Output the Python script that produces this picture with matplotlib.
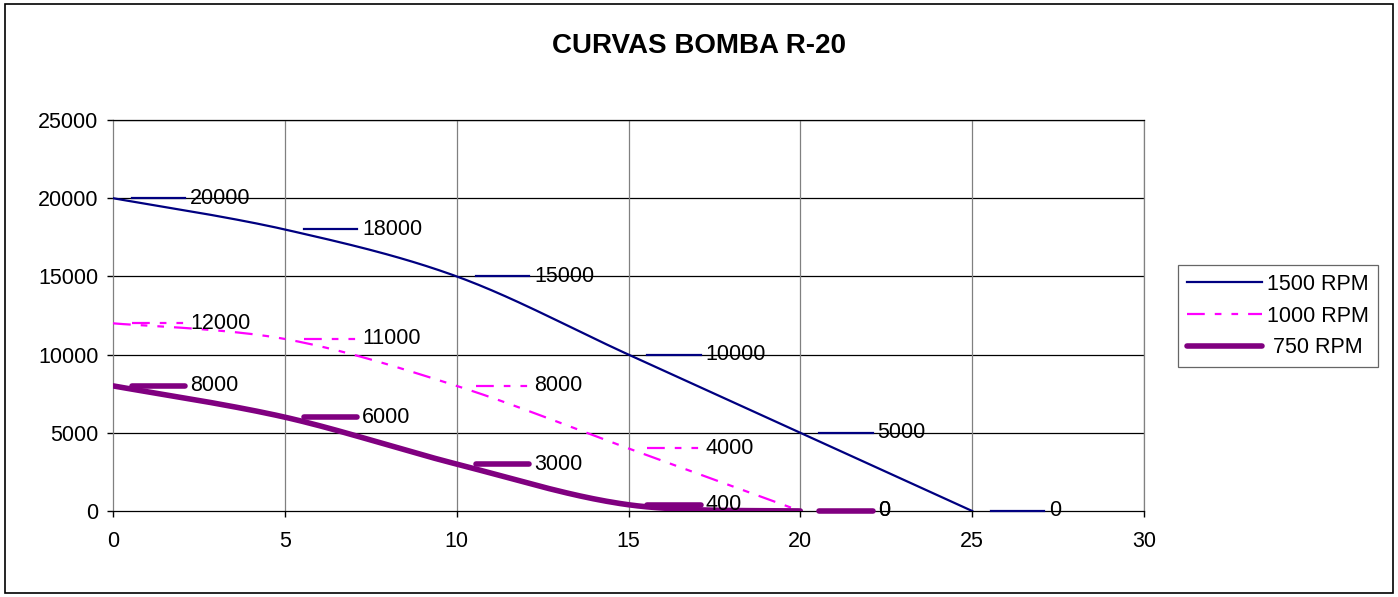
import numpy as np
import matplotlib
matplotlib.use("Agg")
import matplotlib.pyplot as plt
from matplotlib.patches import Rectangle

plt.rcParams['font.family'] = ['Liberation Sans', 'DejaVu Sans']

title = "CURVAS BOMBA R-20"
x_1500 = [0, 5, 10, 15, 20, 25]
y_1500 = [20000, 18000, 15000, 10000, 5000, 0]
x_1000 = [0, 5, 10, 15, 20]
y_1000 = [12000, 11000, 8000, 4000, 0]
x_750 = [0, 5, 10, 15, 20]
y_750 = [8000, 6000, 3000, 400, 0]
series_names = ["1500 RPM", "1000 RPM", " 750 RPM"]
x_ticks = [0, 5, 10, 15, 20, 25, 30]
y_ticks = [0, 5000, 10000, 15000, 20000, 25000]


def smooth(xs, ys, n=40):
    """Excel-style smoothed line (Bezier through points, Catmull-Rom tangents)."""
    P = np.column_stack([xs, ys]).astype(float)
    out = [P[0]]
    t = np.linspace(0, 1, n)[1:]
    for i in range(len(P) - 1):
        p0 = P[i - 1] if i > 0 else P[i]
        p1 = P[i]
        p2 = P[i + 1]
        p3 = P[i + 2] if i + 2 < len(P) else P[i + 1]
        c1 = p1 + (p2 - p0) / 6.0
        c2 = p2 - (p3 - p1) / 6.0
        seg = ((1 - t) ** 3)[:, None] * p1 + (3 * (1 - t) ** 2 * t)[:, None] * c1 \
            + (3 * (1 - t) * t ** 2)[:, None] * c2 + (t ** 3)[:, None] * p2
        out.extend(seg)
    out = np.array(out)
    return out[:, 0], out[:, 1]


FS = 15.5
fig = plt.figure(figsize=(13.98, 5.97), dpi=100)
fig.patches.append(Rectangle((5 / 1398, 4 / 597), 1388 / 1398, 589 / 597,
                             transform=fig.transFigure, fill=False,
                             edgecolor='black', linewidth=1.2))
ax = fig.add_axes([113 / 1398, 1 - 511 / 597, (1144 - 113) / 1398, (511 - 120) / 597])

styles = [
    dict(color='#000080', lw=1.6, ls='-'),
    dict(color='#FF00FF', lw=1.6, ls=(0, (8, 4.5, 3, 4.5, 3, 4.5))),
    dict(color='#800080', lw=4.0, ls='-', solid_capstyle='round'),
]
data = [(x_1500, y_1500), (x_1000, y_1000), (x_750, y_750)]

handles = []
for (xs, ys), st, name in zip(data, styles, series_names):
    sx, sy = smooth(xs, ys)
    h, = ax.plot(sx, sy, label=name, zorder=3, **st)
    handles.append(h)
    for xv, yv in zip(xs, ys):
        ax.plot([xv + 0.55, xv + 2.1], [yv, yv], zorder=4, clip_on=False, **st)
        ax.text(xv + 2.25, yv, f"{yv}", fontsize=FS, ha='left', va='center',
                zorder=5, clip_on=False)

ax.set_xlim(0, 30)
ax.set_ylim(0, 25000)
ax.set_xticks(x_ticks)
ax.set_yticks(y_ticks)
ax.tick_params(axis='both', labelsize=FS, length=4.5, width=1, direction='out')
ax.tick_params(axis='x', pad=10)
ax.tick_params(axis='y', pad=6)
for v in y_ticks[1:]:
    ax.axhline(v, color='black', lw=0.9, zorder=1)
for v in x_ticks[1:]:
    ax.axvline(v, color='#808080', lw=0.9, zorder=1)
ax.spines['left'].set_color('#808080')
ax.spines['right'].set_color('#808080')
ax.spines['bottom'].set_color('black')
ax.spines['top'].set_color('black')
for s in ax.spines.values():
    s.set_linewidth(0.9)

fig.text(0.5, 1 - 46 / 597, title, ha='center', va='center',
         fontsize=20, fontweight='bold')

leg = fig.legend(handles=handles, labels=series_names, loc='center left',
                 bbox_to_anchor=(1178 / 1398, 1 - 316 / 597), fontsize=FS,
                 frameon=True, fancybox=False, edgecolor='#404040',
                 handlelength=3.5, borderpad=0.4, labelspacing=0.5,
                 handletextpad=0.25, borderaxespad=0)
leg.get_frame().set_linewidth(0.9)

fig.savefig("out.png", dpi=100)
